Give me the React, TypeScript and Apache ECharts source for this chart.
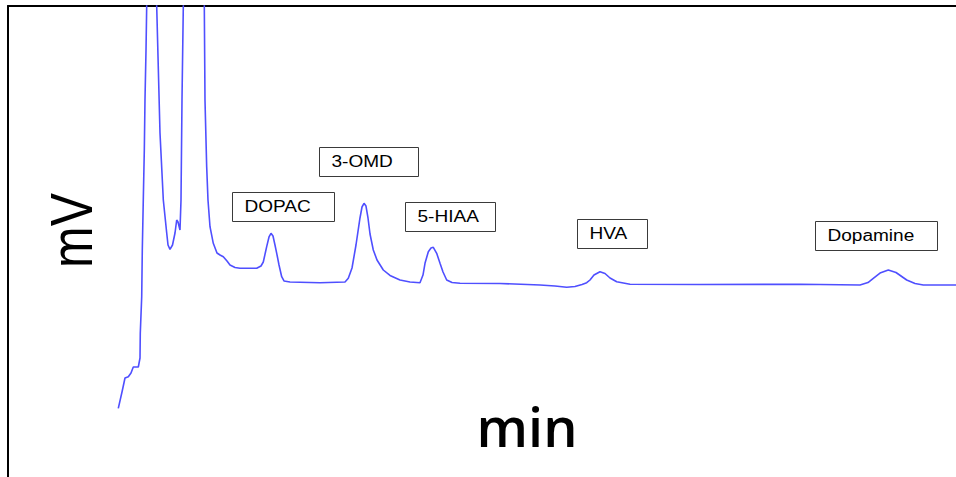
import React, { useEffect, useRef } from "react";
import * as echarts from "echarts";

// Chromatogram trace (time in min, signal in mV)
const timeMin = [
  2.792, 2.886, 2.962, 3.046, 3.114, 3.172, 3.299, 3.342, 3.349, 3.385, 3.4, 3.425, 3.451, 3.468, 3.494, 3.511,
  3.64, 3.765, 3.848, 3.932, 4.018, 4.051, 4.101, 4.165, 4.228, 4.271, 4.304, 4.354, 4.38, 4.405, 4.438,
  4.7, 4.97, 4.987, 5.03, 5.063, 5.114, 5.197, 5.291, 5.367, 5.451, 5.544, 5.62, 5.747, 5.873, 6.296,
  6.405, 6.463, 6.519, 6.549, 6.608, 6.658, 6.709, 6.759, 6.803, 6.861, 6.929, 6.987, 7.139, 7.899,
  8.532, 8.615, 8.709, 8.81, 8.911, 8.962, 9.013, 9.063, 9.114, 9.165, 9.248, 9.342, 9.501, 9.671, 9.924,
  10.177, 10.43, 10.506, 10.557, 10.641, 10.709, 10.767, 10.853, 10.937, 11.013, 11.106, 11.241, 11.443,
  12.456, 13.468, 13.848, 14.144, 14.354, 14.532, 14.651, 14.734, 14.835, 14.987, 15.114, 15.241, 15.41,
  15.747, 17.519, 20.051, 21.57, 21.772, 21.906, 22.076, 22.286, 22.481, 22.752, 22.962, 23.172, 24.0,
];
const signalMV = [
  17.5, 21.66, 25.22, 25.55, 26.5, 28.03, 28.03, 30.32, 36.69, 45.94, 57.83, 70.57, 83.31, 96.05, 108.8, 119.8,
  190, 119.8, 87.64, 70.57, 62.17, 59.11, 58.01, 59.11, 62.17, 65.48, 64.97, 62.93, 70.57, 96.05, 119.8,
  250, 119.8, 96.05, 79.06, 70.57, 63.77, 59.54, 57.07, 56.56, 56.13, 55.03, 54.01, 53.38, 53.17, 53.17,
  53.76, 54.78, 57.32, 58.68, 61.15, 62.09, 61.4, 59.11, 56.99, 54.01, 51.03, 49.94, 49.68, 49.5,
  49.68, 50.62, 53.25, 59.11, 65.99, 68.79, 69.73, 69.04, 65.99, 61.91, 57.83, 55.29, 52.74, 51.34, 50.19,
  49.68, 49.5, 51.46, 54.45, 57.4, 58.34, 58.52, 56.99, 54.45, 52.23, 50.19, 49.55, 49.35,
  49.3, 48.92, 48.66, 48.33, 48.54, 49.04, 49.5, 50.19, 51.46, 52.31, 51.85, 50.7, 49.76,
  49.1, 49.04, 49.1, 48.92, 49.55, 50.62, 51.97, 52.74, 52.1, 50.19, 49.3, 48.92, 48.92,
];

// Peak annotations (anchor = left edge / vertical centre of each label box)
const peakNames = ["DOPAC", "3-OMD", "5-HIAA", "HVA", "Dopamine"];
const labelTime = [5.671, 7.873, 10.051, 14.405, 20.43];
const labelMV = [68.87, 80.38, 66.27, 61.96, 61.53];

const xAxisTitle = "min";
const yAxisTitle = "mV";

export default function App() {
  const ref = useRef<HTMLDivElement>(null);

  useEffect(() => {
    if (!ref.current) return;
    const chart = echarts.init(ref.current, undefined, { renderer: "svg" });
    const hidden = {
      axisTick: { show: false },
      axisLabel: { show: false },
      splitLine: { show: false },
    };
    chart.setOption({
      animation: false,
      backgroundColor: "#ffffff",
      grid: { left: 8, top: 6, right: 0, bottom: 0 },
      xAxis: {
        type: "value",
        min: 0,
        max: 24,
        position: "top",
        axisLine: { show: true, onZero: false, lineStyle: { color: "#000", width: 2 } },
        ...hidden,
      },
      yAxis: {
        type: "value",
        min: 0,
        max: 120,
        axisLine: { show: true, onZero: false, lineStyle: { color: "#000", width: 2 } },
        ...hidden,
      },
      series: [
        {
          type: "line",
          data: timeMin.map((t, i) => [t, signalMV[i]]),
          symbol: "none",
          showSymbol: false,
          clip: true,
          lineStyle: { color: "#4f4fff", width: 1.6 },
        },
      ],
    });

    const boxWidths = [102, 99, 90, 70, 122];
    const boxH = 29;
    const labelGraphics = peakNames.map((name, i) => {
      const p = chart.convertToPixel({ gridIndex: 0 }, [labelTime[i], labelMV[i]]) as number[];
      return {
        type: "group",
        x: Math.round(p[0]) + 0.5,
        y: Math.round(p[1] - boxH / 2) + 0.5,
        children: [
          {
            type: "rect",
            shape: { x: 0, y: 0, width: boxWidths[i], height: boxH },
            style: { fill: "#ffffff", stroke: "#3a3a3a", lineWidth: 1 },
          },
          {
            type: "text",
            x: 12,
            y: boxH / 2,
            scaleX: 1.19,
            style: {
              text: name,
              fontSize: 16,
              fontFamily: "Arial, 'Liberation Sans', sans-serif",
              fill: "#000",
              align: "left",
              verticalAlign: "middle",
            },
          },
        ],
      };
    });

    chart.setOption({
      graphic: [
        ...labelGraphics,
        {
          type: "text",
          x: 71,
          y: 230.5,
          rotation: Math.PI / 2,
          scaleY: 1.2,
          style: {
            text: yAxisTitle,
            fontSize: 50,
            fontFamily: "Arial, 'Liberation Sans', sans-serif",
            fill: "#000",
            align: "center",
            verticalAlign: "middle",
          },
        },
        {
          type: "text",
          x: 527,
          y: 426,
          style: {
            text: xAxisTitle,
            fontSize: 54,
            fontWeight: 600,
            fontFamily: "'Open Sans', sans-serif",
            fill: "#000",
            align: "center",
            verticalAlign: "middle",
          },
        },
      ],
    });

    return () => chart.dispose();
  }, []);

  return (
    <div
      ref={ref}
      style={{ position: "absolute", left: 0, top: 0, width: 956, height: 477, background: "#fff" }}
    />
  );
}
